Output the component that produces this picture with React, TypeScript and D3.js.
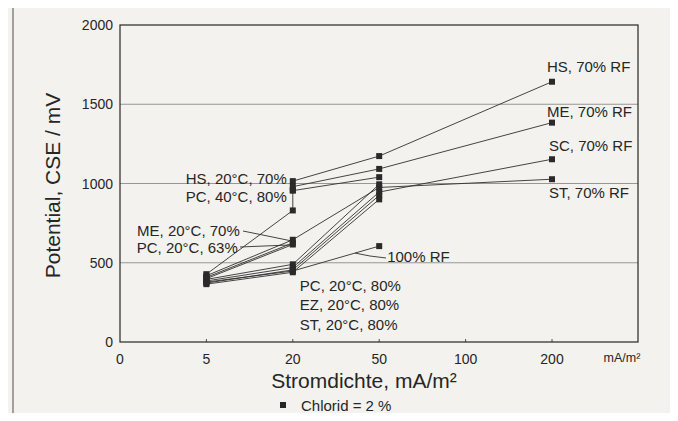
import React from 'react';
import * as d3 from 'd3';

// x categories (equally spaced in the original figure)
const xCats = ['0', '5', '20', '50', '100', '200'];
const xTickCats = ['5', '20', '50', '100', '200'];
const yTicks = [0, 500, 1000, 1500, 2000];
const gridValues = [500, 1000, 1500];

type Pt = [string, number];

// series: [current density category, potential mV]
const hs70rf: Pt[] = [['20', 1015], ['50', 1173], ['200', 1642]];
const me70rf: Pt[] = [['20', 980], ['50', 1092], ['200', 1384]];
const pc40: Pt[] = [['20', 955], ['50', 1040]];
const hs20: Pt[] = [['5', 428], ['20', 830], ['20', 958]];
const me20: Pt[] = [['5', 418], ['20', 645], ['50', 975], ['200', 1027]];
const pc63: Pt[] = [['5', 408], ['20', 625]];
const pc63b: Pt[] = [['5', 400], ['20', 615]];
const pc80: Pt[] = [['5', 395], ['20', 490], ['50', 995]];
const ez80: Pt[] = [['5', 385], ['20', 470], ['50', 946], ['200', 1153]];
const st80: Pt[] = [['5', 372], ['20', 455], ['50', 925]];
const sc80: Pt[] = [['5', 365], ['20', 440], ['50', 900]];
const rf100: Pt[] = [['5', 378], ['20', 448], ['50', 605]];

const allSeries = [hs70rf, me70rf, pc40, hs20, me20, pc63, pc63b, pc80, ez80, st80, sc80, rf100];

// labels: text, anchor category, anchor value
const labelTexts = ['HS, 70% RF', 'ME, 70% RF', 'SC, 70% RF', 'ST, 70% RF',
  'HS, 20°C, 70%', 'PC, 40°C, 80%', 'ME, 20°C, 70%', 'PC, 20°C, 63%', '100% RF',
  'PC, 20°C, 80%', 'EZ, 20°C, 80%', 'ST, 20°C, 80%'];
const labelCats = ['200', '200', '200', '200', '20', '20', '20', '20', '50', '20', '20', '20'];
const labelValues = [1642, 1384, 1153, 1027, 1000, 1000, 645, 625, 605, 440, 440, 440];

const W = 678;
const H = 421;
const M = { left: 120, right: 40, top: 25, bottom: 79 };
const FONT = '"Liberation Sans", Arial, Helvetica, sans-serif';
const INK = '#262626';
const PAPER = '#f3f2ee';

export default function App() {
  const x = d3.scalePoint<string>().domain(xCats).range([M.left, 552]).padding(0);
  const y = d3.scaleLinear().domain([0, 2000]).range([H - M.bottom, M.top]);
  const right = W - M.right;
  const bottom = H - M.bottom;

  const line = d3.line<Pt>().x(d => x(d[0]) as number).y(d => y(d[1]));

  // label offsets (layout only)
  const offs: [number, number, string][] = [
    [-5, -10, 'start'], [-5, -6, 'start'], [-3, -8, 'start'], [-3, 19, 'start'],
    [-6, 0, 'end'], [-6, 18, 'end'], [-53, -4, 'end'], [-55, 10, 'end'], [8, 16, 'start'],
    [7, 19, 'start'], [7, 38, 'start'], [7, 58, 'start'],
  ];

  // leader lines: from label end to the marked series
  const x20 = x('20') as number;
  const rfA = rf100[1];
  const rfB = rf100[2];
  const rfX = 355;
  const rfT = (rfX - x20) / ((x('50') as number) - x20);
  const rfY = y(rfA[1] + (rfB[1] - rfA[1]) * rfT);

  return (
    <div style={{ margin: -8, width: W, height: H, overflow: 'hidden' }}>
      <svg width={W} height={H} style={{ display: 'block', background: PAPER }} fontFamily={FONT}>
        <rect x={0} y={0} width={W} height={H} fill={PAPER} />
        {/* outer page frame */}
        <rect x={13} y={5} width={663} height={412} fill="none" stroke="#6a6a6a" strokeWidth={1.2} />

        {/* grid */}
        {gridValues.map(v => (
          <line key={v} x1={M.left} x2={right} y1={y(v)} y2={y(v)} stroke="#8c8c8c" strokeWidth={0.9} />
        ))}

        {/* plot frame */}
        <rect x={M.left} y={M.top} width={right - M.left} height={bottom - M.top}
          fill="none" stroke={INK} strokeWidth={1.2} />

        {/* x ticks */}
        {xTickCats.map(c => (
          <line key={c} x1={x(c)} x2={x(c)} y1={bottom} y2={bottom - 3} stroke={INK} strokeWidth={0.8} />
        ))}
        {xCats.map(c => (
          <text key={c} x={x(c)} y={bottom + 22} textAnchor="middle" fontSize={14} fill={INK}>{c}</text>
        ))}
        <text x={(x('200') as number) + 70} y={bottom + 20} textAnchor="middle" fontSize={12.5} fill={INK}>mA/m²</text>

        {/* y ticks */}
        {yTicks.map(v => (
          <text key={v} x={M.left - 7} y={y(v) + 5} textAnchor="end" fontSize={14} fill={INK}>{v}</text>
        ))}

        {/* axis titles */}
        <text transform={`translate(${60},${(M.top + bottom) / 2 + 2}) rotate(-90)`} textAnchor="middle"
          fontSize={21} fill={INK}>Potential, CSE / mV</text>
        <text x={364} y={388} textAnchor="middle" fontSize={21} fill={INK}>Stromdichte, mA/m²</text>

        {/* legend */}
        <rect x={280} y={402} width={6} height={6} fill={INK} />
        <text x={301} y={411} fontSize={15} fill={INK}>Chlorid = 2 %</text>

        {/* series lines */}
        {allSeries.map((s, i) => (
          <path key={i} d={line(s) ?? ''} fill="none" stroke="#303030" strokeWidth={0.9} />
        ))}
        {/* leader lines */}
        <line x1={243} y1={231} x2={x20 - 2} y2={y(me20[1][1]) + 1} stroke="#303030" strokeWidth={0.9} />
        <line x1={240} y1={247} x2={x20 - 2} y2={y(pc63[1][1]) + 2} stroke="#303030" strokeWidth={0.9} />
        <polyline points={`386,258 370,256 ${rfX},${rfY}`} fill="none" stroke="#303030" strokeWidth={0.9} />

        {/* markers */}
        {allSeries.map((s, i) => s.map((d, j) => (
          <rect key={`${i}-${j}`} x={(x(d[0]) as number) - 3} y={y(d[1]) - 3} width={6} height={6} fill="#2a2a2a" />
        )))}

        {/* labels */}
        {labelTexts.map((t, i) => (
          <text key={t} x={(x(labelCats[i]) as number) + offs[i][0]} y={y(labelValues[i]) + offs[i][1]}
            textAnchor={offs[i][2] as any} fontSize={15} fill={INK}>{t}</text>
        ))}
      </svg>
    </div>
  );
}
